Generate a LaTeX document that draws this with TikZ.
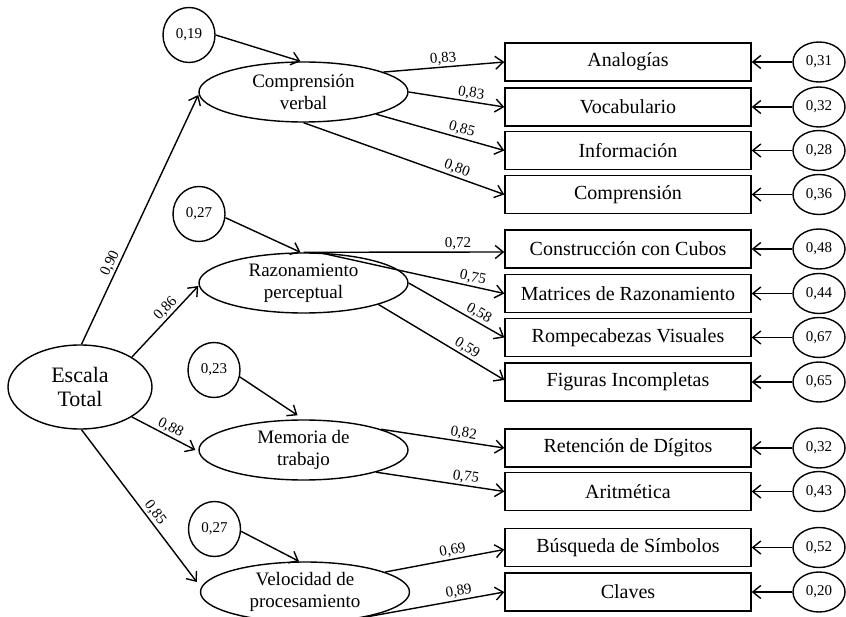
\documentclass[tikz,border=0pt]{standalone}
\usepackage{fontspec}
\setmainfont{Liberation Serif}
\usetikzlibrary{shapes.geometric,arrows.meta}
\begin{document}
\begin{tikzpicture}[x=1pt,y=-1pt,
  lw/.style={line width=1.4pt},
  lat/.style={draw,lw,ellipse,inner sep=0pt,minimum width=209pt,minimum height=60pt,align=center,font=\fontsize{19}{21.5}\selectfont},
  obs/.style={draw,lw,rectangle,inner sep=0pt,minimum width=246pt,minimum height=38pt,font=\fontsize{20}{22}\selectfont},
  err/.style={draw,lw,ellipse,inner sep=0pt,minimum width=52pt,minimum height=40pt,font=\fontsize{15}{17}\selectfont},
  dist/.style={draw,lw,ellipse,inner sep=0pt,minimum width=52pt,minimum height=55pt,font=\fontsize{15}{17}\selectfont},
  arr/.style={lw,-{Straight Barb[length=8pt,width=13pt]}},
  lab/.style={font=\fontsize{15}{17}\selectfont,sloped,above,inner sep=1.5pt}
]
\useasboundingbox (0,0) rectangle (846,617);

% general factor
\node[draw,lw,ellipse,inner sep=0pt,minimum width=144pt,minimum height=84pt,align=center,font=\fontsize{22}{24}\selectfont] (et) at (80,387) {Escala\\Total};

% latent factors
\node[lat] (cv) at (303.5,92) {Comprensión\\verbal};
\node[lat] (rp) at (303.5,283) {Razonamiento\\perceptual};
\node[lat] (mt) at (303.5,450) {Memoria de\\trabajo};
\node[lat] (vp) at (305,592) {Velocidad de\\procesamiento};

% disturbances
\node[dist] (d1) at (189,35) {0,19};
\node[dist] (d2) at (199,214) {0,27};
\node[dist] (d3) at (214,370) {0,23};
\node[dist] (d4) at (214.5,529) {0,27};

% observed
\node[obs] (b1) at (628,62) {Analogías};
\node[obs] (b2) at (628,107) {Vocabulario};
\node[obs] (b3) at (628,150.5) {Información};
\node[obs] (b4) at (628,194.5) {Comprensión};
\node[obs] (b5) at (628,249) {Construcción con Cubos};
\node[obs] (b6) at (628,293.5) {Matrices de Razonamiento};
\node[obs] (b7) at (628,337.5) {Rompecabezas Visuales};
\node[obs] (b8) at (628,382) {Figuras Incompletas};
\node[obs] (b9) at (628,448) {Retención de Dígitos};
\node[obs] (b10) at (628,491.5) {Aritmética};
\node[obs] (b11) at (628,547.5) {Búsqueda de Símbolos};
\node[obs] (b12) at (628,592) {Claves};

% errors
\node[err] (e1) at (819,62) {0,31};
\node[err] (e2) at (819,107) {0,32};
\node[err] (e3) at (819,150.5) {0,28};
\node[err] (e4) at (819,194.5) {0,36};
\node[err] (e5) at (819,249) {0,48};
\node[err] (e6) at (819,293.5) {0,44};
\node[err] (e7) at (819,337.5) {0,67};
\node[err] (e8) at (819,382) {0,65};
\node[err] (e9) at (819,448) {0,32};
\node[err] (e10) at (819,491.5) {0,43};
\node[err] (e11) at (819,547.5) {0,52};
\node[err] (e12) at (819,592) {0,20};

\foreach \i in {1,...,12} {\draw[arr] (e\i.west) -- (b\i.east);}

% general factor paths
\draw[arr] (et.88) -- node[lab,pos=0.31]{0,90} ([yshift=-3pt]cv.west);
\draw[arr] (et.30) -- node[lab,pos=0.6]{0,86} ([yshift=-3pt]rp.west);
\draw[arr] (et.-30) -- node[lab,pos=0.55]{0,88} ([xshift=-3pt]mt.west);
\draw[arr] (et.-88) -- node[lab,pos=0.58]{0,85} ([xshift=-3pt,yshift=10pt]vp.west);

% disturbances
\draw[arr] (d1.east) -- ([xshift=-3pt]cv.north);
\draw[arr] (d2.-8) -- ([xshift=-3pt]rp.north);
\draw[arr] (d3.-15) -- ([xshift=-6pt,yshift=4pt]mt.north);
\draw[arr] (d4.-5) -- ([xshift=-6pt]vp.north);

% loadings
\draw[arr] (cv.14) -- node[lab,pos=0.5]{0,83} (b1.west);
\draw[arr] (cv.0) -- node[lab,pos=0.64]{0,83} (b2.west);
\draw[arr] (cv.-17) -- node[lab,pos=0.65]{0,85} (b3.west);
\draw[arr] (cv.south) -- node[lab,pos=0.75]{0,80} (b4.west);

\draw[arr] (rp.north) -- node[lab,pos=0.77]{0,72} ([yshift=-3pt]b5.west);
\draw[arr] (rp.62) -- node[lab,pos=0.82]{0,75} (b6.west);
\draw[arr] (rp.0) -- node[lab,pos=0.69]{0,58} (b7.west);
\draw[arr] (rp.-16) -- node[lab,pos=0.67]{0,59} ([yshift=2pt]b8.west);

\draw[arr] (mt.15) -- node[lab,pos=0.66]{0,82} (b9.west);
\draw[arr] (mt.-17) -- node[lab,pos=0.69]{0,75} (b10.west);

\draw[arr] (vp.14) -- node[lab,pos=0.58]{0,69} ([yshift=-2pt]b11.west);
\draw[arr] (vp.-22) -- node[lab,pos=0.68]{0,89} (b12.west);
\end{tikzpicture}
\end{document}
